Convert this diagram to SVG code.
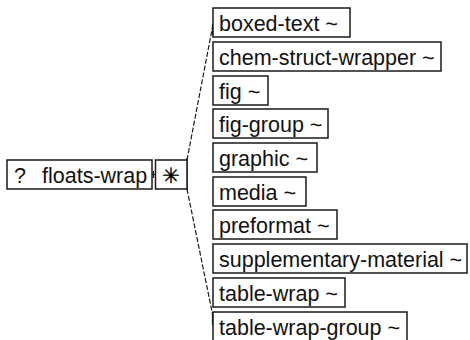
<svg xmlns="http://www.w3.org/2000/svg" width="470" height="340" viewBox="0 0 470 340">
  <style>
    .box { fill: #ffffff; stroke: #1a1a1a; stroke-width: 1.5; }
    .lbl { font-family: "Liberation Sans", Arial, sans-serif; font-size: 21.5px; fill: #111111; }
    .conn { fill: none; stroke: #1a1a1a; stroke-width: 1.2; }
    .dash { fill: none; stroke: #1a1a1a; stroke-width: 1.2; stroke-dasharray: 5 2; }
  </style>
  <rect x="0" y="0" width="470" height="340" fill="#ffffff"/>

  <g id="connectors">
    <path class="conn" d="M152,174.5 H155 M153.5,171 V178"/>
    <path class="dash" d="M187,160 L212.5,27"/>
    <path class="dash" d="M187,189 L212.5,314"/>
    <path class="conn" d="M187,158 V190"/>
    <path class="conn" d="M212.5,24 V35"/>
    <path class="conn" d="M212.5,312 V325"/>
  </g>

  <g id="floats-wrap">
    <rect class="box" x="7" y="160" width="145" height="29"/>
    <text class="lbl" y="183"><tspan x="14">?</tspan><tspan x="42">floats-wrap</tspan></text>
  </g>

  <g id="choice">
    <rect class="box" x="155.5" y="160" width="31.5" height="29"/>
    <text x="171" y="182.5" text-anchor="middle" font-family="DejaVu Sans, sans-serif" font-size="21" fill="#000000" stroke="#000000" stroke-width="0.4">✳</text>
  </g>

  <g id="boxed-text">
    <rect class="box" x="213" y="8" width="137" height="29"/>
    <text class="lbl" x="219" y="31">boxed-text ~</text>
  </g>
  <g id="chem-struct-wrapper">
    <rect class="box" x="213" y="42" width="228" height="29"/>
    <text class="lbl" x="219" y="65">chem-struct-wrapper ~</text>
  </g>
  <g id="fig">
    <rect class="box" x="213" y="76" width="55" height="29"/>
    <text class="lbl" x="219" y="99">fig ~</text>
  </g>
  <g id="fig-group">
    <rect class="box" x="213" y="109" width="115" height="29"/>
    <text class="lbl" x="219" y="132">fig-group ~</text>
  </g>
  <g id="graphic">
    <rect class="box" x="213" y="143" width="104" height="29"/>
    <text class="lbl" x="219" y="166">graphic ~</text>
  </g>
  <g id="media">
    <rect class="box" x="213" y="177" width="93" height="29"/>
    <text class="lbl" x="219" y="200">media ~</text>
  </g>
  <g id="preformat">
    <rect class="box" x="213" y="210" width="124" height="29"/>
    <text class="lbl" x="219" y="233">preformat ~</text>
  </g>
  <g id="supplementary-material">
    <rect class="box" x="213" y="244" width="254" height="29"/>
    <text class="lbl" x="219" y="267">supplementary-material ~</text>
  </g>
  <g id="table-wrap">
    <rect class="box" x="213" y="278" width="132" height="29"/>
    <text class="lbl" x="219" y="301">table-wrap ~</text>
  </g>
  <g id="table-wrap-group">
    <rect class="box" x="213" y="312" width="194" height="29"/>
    <text class="lbl" x="219" y="335">table-wrap-group ~</text>
  </g>
</svg>
